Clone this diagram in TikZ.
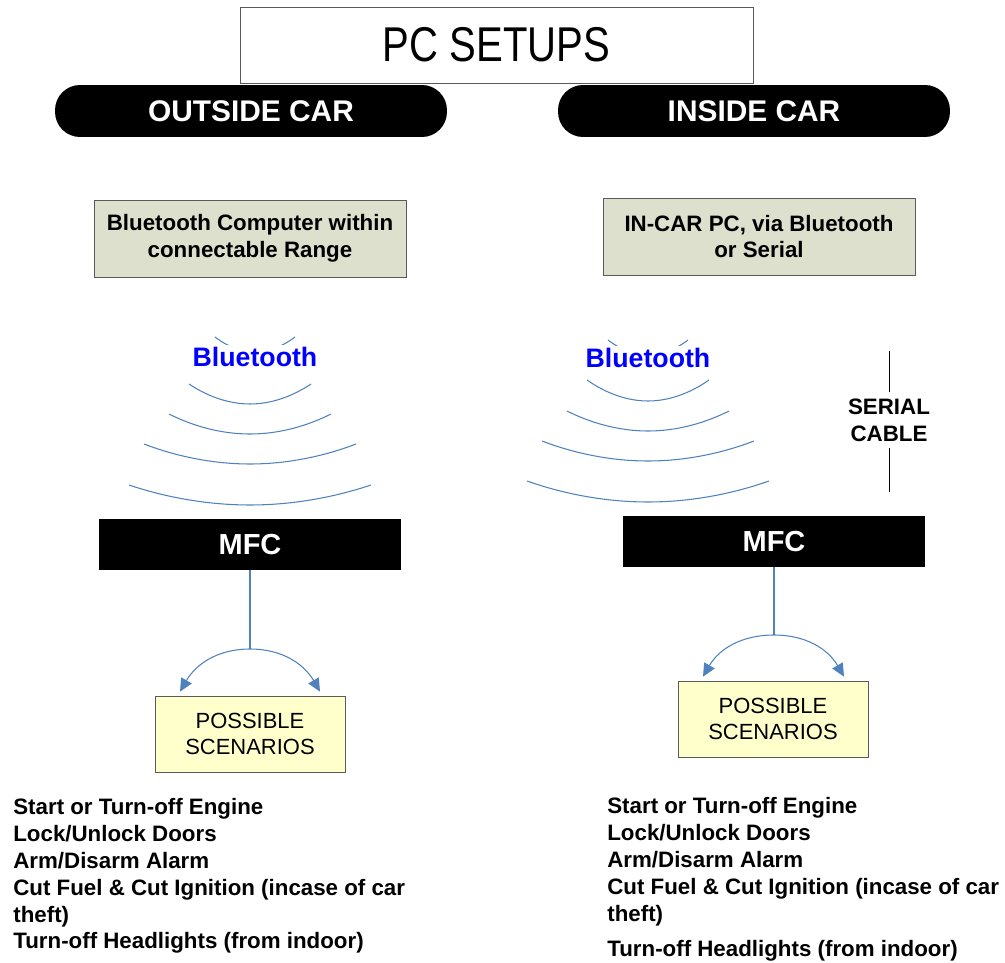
\documentclass[tikz,border=0pt]{standalone}
\usepackage{fontspec}
\setmainfont{Liberation Sans}
\usetikzlibrary{positioning,calc,arrows.meta}

\definecolor{wavblue}{RGB}{79,129,189}
\definecolor{pcgray}{RGB}{221,224,204}
\definecolor{scenyellow}{RGB}{255,255,204}
\definecolor{edgegray}{RGB}{90,90,90}

\begin{document}
\begin{tikzpicture}[
	x=0.02cm, y=-0.02cm,
	titlebox/.style = {rectangle, draw=edgegray, fill=white,
		minimum width=10.26cm, minimum height=1.52cm,
		font=\fontsize{27.8}{30}\selectfont},
	pill/.style = {rectangle, rounded corners=0.5cm, fill=black, text=white,
		minimum width=7.84cm, minimum height=1.04cm,
		font=\bfseries\fontsize{17}{20}\selectfont},
	pcbox/.style = {rectangle, draw=edgegray, fill=pcgray,
		minimum width=6.24cm, minimum height=1.54cm, align=center,
		font=\bfseries\fontsize{12.7}{15.3}\selectfont},
	bt/.style = {fill=white, text=blue, inner sep=1pt,
		font=\bfseries\fontsize{15.2}{18}\selectfont},
	wave/.style = {draw=wavblue, line width=0.6pt},
	mfc/.style = {rectangle, fill=black, text=white,
		minimum width=6.06cm, minimum height=1.02cm,
		font=\bfseries\fontsize{16.5}{19}\selectfont},
	scen/.style = {rectangle, draw=edgegray, fill=scenyellow,
		minimum width=3.8cm, minimum height=1.52cm, align=center,
		font=\fontsize{12.5}{15}\selectfont},
	feed/.style = {draw=wavblue, line width=0.6pt},
	fork/.style = {draw=wavblue, line width=0.6pt, -{Triangle[length=0.26cm,width=0.24cm]}},
	cable/.style = {align=center, font=\bfseries\fontsize{12.7}{15.3}\selectfont},
	list/.style = {anchor=north west, inner sep=0pt, align=left,
		font=\bfseries\fontsize{12.7}{15.3}\selectfont},
	]
	\useasboundingbox (0,0) rectangle (1005,963);

	% heading and the two columns
	\node[titlebox] (title) at (496.5,45) {\scalebox{0.82}[1]{PC SETUPS}};
	\node[pill] (outside) at (251,111) {OUTSIDE CAR};
	\node[pill] (inside) at (754,111) {INSIDE CAR};

	\node[pcbox] (btpc) at (250,238.5) {Bluetooth Computer within\\connectable Range};
	\node[pcbox] (incarpc) at (759,236.5) {IN-CAR PC, via Bluetooth\\or Serial};

	% radio waves
	\foreach \cx/\e/\b/\w in {255/337/352/40, 250/384/404/61, 250/414/434/81,
		250/444/464/106, 250/485/505/121, 648/340/355/40, 648/380/401/61,
		648/411/431/81, 648/441/461/106, 648/481/502/121}
	\draw[wave] (\cx-\w,\e) parabola bend (\cx,\b) (\cx+\w,\e);

	\node[bt] (btL) at (255,357) {Bluetooth};
	\node[bt] (btR) at (648,358) {Bluetooth};

	% serial cable
	\node[cable] (serial) at (889,420) {SERIAL\\CABLE};
	\coordinate (cabletop) at (890,351);
	\coordinate (cablebot) at (889,492);
	\draw (serial.north) -- (serial.north |- cabletop);
	\draw (serial.south) -- (serial.south |- cablebot);

	\node[mfc] (mfcL) at (250,544.5) {MFC};
	\node[mfc] (mfcR) at (774,541.5) {MFC};

	\node[scen] (scenL) at (250,734) {POSSIBLE\\SCENARIOS};
	\node[scen] (scenR) at (773,719) {POSSIBLE\\SCENARIOS};

	\coordinate (forkL) at (250,649);
	\coordinate (forkR) at (774,635);
	\draw[feed] (mfcL.south) -- (forkL);
	\draw[feed] (mfcR.south) -- (forkR);
	\draw[fork] (forkL) to[out=180,in=60] ($(scenL.north)+(-70,-4)$);
	\draw[fork] (forkL) to[out=0,in=120] ($(scenL.north)+(70,-4)$);
	\draw[fork] (forkR) to[out=180,in=60] ($(scenR.north)+(-70,-4)$);
	\draw[fork] (forkR) to[out=0,in=120] ($(scenR.north)+(71,-4)$);

	% what can be done
	\node[list] (listL) at (13,798) {Start or Turn-off Engine\\Lock/Unlock Doors\\
		Arm/Disarm Alarm\\Cut Fuel \& Cut Ignition (incase of car\\theft)\\
		Turn-off Headlights (from indoor)};
	\node[list] (listR) at (607,797) {Start or Turn-off Engine\\Lock/Unlock Doors\\
		Arm/Disarm Alarm\\Cut Fuel \& Cut Ignition (incase of car\\theft)\\[5pt]
		Turn-off Headlights (from indoor)};
\end{tikzpicture}
\end{document}
